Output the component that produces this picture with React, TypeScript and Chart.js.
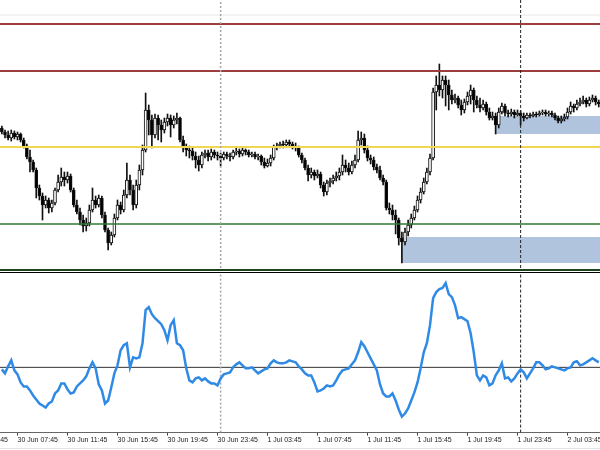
import React, { useEffect, useRef } from "react";
import { Chart, registerables } from "chart.js";

Chart.register(...registerables);

// M15 bars, time in hours from 30 Jun 00:00
const START_HOUR = 6.5;
const BAR_HOURS = 0.25;
const X_MIN = 6.35;
const X_MAX = 54.35;
const PRICE_MIN = 1803.2;
const PRICE_MAX = 1830.0;
const OSC_MIN = -65;
const OSC_MAX = 94;

const opens = [
  1817.2, 1816.8, 1816.5, 1816.2, 1816.7, 1816.3, 1816.6, 1816.0, 1815.4, 1814.3,
  1813.8, 1813.0, 1811.2, 1810.4, 1809.5, 1810.0, 1809.2, 1809.7, 1811.0, 1811.8,
  1812.3, 1812.0, 1812.4, 1811.0, 1809.5, 1808.8, 1808.0, 1807.4, 1807.7, 1809.0,
  1810.0, 1809.5, 1810.2, 1808.5, 1807.0, 1805.7, 1806.5, 1808.2, 1809.5, 1809.0,
  1810.5, 1812.0, 1811.0, 1809.5, 1811.5, 1813.0, 1815.0, 1819.0, 1818.0, 1816.5,
  1818.2, 1817.5, 1817.0, 1817.8, 1818.2, 1817.5, 1818.0, 1818.2, 1816.0, 1815.2,
  1815.0, 1814.9, 1814.4, 1814.0, 1813.5, 1814.5, 1814.7, 1814.3, 1814.8, 1814.5,
  1814.4, 1814.2, 1814.6, 1814.4, 1814.3, 1814.8, 1814.9, 1814.6, 1815.0, 1814.8,
  1814.5, 1814.6, 1814.3, 1814.4, 1813.8, 1813.4, 1813.7, 1814.2, 1815.3, 1815.4,
  1815.6, 1815.5, 1815.8, 1815.6, 1815.4, 1815.2, 1814.5, 1814.0, 1813.2, 1812.5,
  1812.8, 1812.4, 1812.6, 1811.5, 1810.8, 1811.7, 1811.9, 1812.2, 1812.4, 1812.8,
  1813.5, 1813.2, 1812.8, 1813.5, 1814.0, 1816.0, 1816.2, 1815.0, 1814.2, 1814.0,
  1813.3, 1813.0, 1812.2, 1811.8, 1809.2, 1809.0, 1808.5, 1808.0, 1806.2, 1805.8,
  1806.8, 1807.5, 1808.2, 1809.0, 1810.0, 1810.8, 1811.8, 1812.8, 1814.2, 1820.8,
  1821.5, 1821.0, 1822.0, 1821.5, 1820.5, 1820.0, 1820.2, 1819.5, 1819.0, 1819.8,
  1820.4, 1821.0, 1820.0, 1819.5, 1819.2, 1819.6, 1818.8, 1818.2, 1818.4, 1817.5,
  1818.8, 1819.4, 1818.7, 1818.6, 1818.8, 1818.5, 1818.7, 1818.4, 1818.2, 1818.5,
  1818.4, 1818.6, 1818.5, 1818.7, 1818.8, 1818.6, 1818.7, 1818.5, 1818.2, 1817.9,
  1818.1, 1818.3, 1818.8, 1819.4, 1819.2, 1819.6, 1819.8, 1820.0, 1819.6, 1820.0,
  1820.2, 1819.8,
];

const highs = [
  1817.4, 1817.0, 1816.9, 1817.0, 1816.9, 1816.8, 1816.7, 1816.2, 1815.6, 1815.0,
  1814.0, 1813.2, 1811.5, 1810.7, 1810.4, 1810.2, 1810.0, 1811.2, 1812.5, 1813.2,
  1812.8, 1812.8, 1812.6, 1811.2, 1810.0, 1809.2, 1808.5, 1808.2, 1809.5, 1811.2,
  1810.4, 1810.5, 1810.4, 1808.8, 1807.2, 1806.8, 1808.6, 1810.0, 1809.8, 1811.0,
  1813.7, 1812.5, 1811.5, 1812.0, 1813.5, 1815.5, 1820.7, 1819.5, 1818.5, 1818.6,
  1818.5, 1818.0, 1818.2, 1818.6, 1818.5, 1818.4, 1818.7, 1818.3, 1816.4, 1815.6,
  1815.4, 1815.2, 1814.8, 1814.4, 1814.8, 1815.0, 1815.0, 1815.1, 1815.0, 1814.8,
  1814.7, 1814.8, 1814.8, 1814.7, 1815.0, 1815.2, 1815.1, 1815.2, 1815.1, 1815.0,
  1814.8, 1814.8, 1814.6, 1814.5, 1814.2, 1814.1, 1814.5, 1815.5, 1815.7, 1815.8,
  1815.9, 1816.0, 1816.0, 1815.8, 1815.7, 1815.4, 1814.7, 1814.2, 1813.5, 1813.2,
  1813.0, 1813.0, 1812.8, 1811.8, 1812.0, 1812.2, 1812.5, 1812.8, 1813.2, 1814.5,
  1814.0, 1813.7, 1813.9, 1814.5, 1816.9, 1816.8, 1816.6, 1815.4, 1814.5, 1814.3,
  1813.6, 1813.4, 1812.5, 1812.0, 1809.7, 1809.5, 1809.0, 1808.2, 1806.8, 1807.2,
  1808.0, 1808.6, 1809.4, 1810.4, 1811.2, 1812.2, 1813.2, 1814.6, 1821.2, 1822.4,
  1823.6, 1822.4, 1822.4, 1822.0, 1821.0, 1820.6, 1820.4, 1820.0, 1820.1, 1820.8,
  1821.5, 1821.2, 1820.4, 1820.2, 1820.0, 1819.8, 1819.2, 1818.8, 1818.7, 1819.2,
  1819.7, 1819.6, 1819.0, 1819.1, 1819.0, 1819.0, 1818.9, 1818.7, 1818.7, 1818.7,
  1818.8, 1818.8, 1818.9, 1819.0, 1819.0, 1818.9, 1818.9, 1818.7, 1818.4, 1818.4,
  1818.6, 1819.2, 1819.8, 1819.6, 1820.0, 1820.2, 1820.4, 1820.2, 1820.3, 1820.5,
  1820.4, 1820.0,
];

const lows = [
  1816.6, 1816.2, 1816.0, 1815.9, 1816.1, 1816.0, 1815.8, 1815.2, 1814.1, 1812.8,
  1812.8, 1810.2, 1810.0, 1808.0, 1809.2, 1808.7, 1808.8, 1809.5, 1810.8, 1811.4,
  1811.4, 1811.7, 1810.8, 1809.3, 1808.6, 1807.5, 1806.8, 1806.9, 1807.4, 1808.8,
  1809.2, 1809.3, 1808.2, 1806.8, 1805.0, 1805.5, 1806.3, 1808.0, 1808.6, 1808.8,
  1810.2, 1810.5, 1809.0, 1809.2, 1811.0, 1812.5, 1814.8, 1816.5, 1815.2, 1816.2,
  1816.0, 1815.8, 1816.7, 1817.4, 1816.3, 1817.2, 1817.6, 1815.8, 1814.8, 1814.4,
  1814.2, 1814.0, 1813.2, 1812.9, 1813.2, 1814.2, 1813.9, 1814.0, 1814.2, 1814.0,
  1813.4, 1814.0, 1814.1, 1813.9, 1814.1, 1814.5, 1814.3, 1814.4, 1814.5, 1814.3,
  1814.3, 1814.1, 1814.0, 1813.5, 1813.2, 1813.3, 1813.4, 1814.0, 1815.0, 1815.2,
  1815.2, 1815.3, 1815.3, 1815.1, 1814.9, 1814.3, 1813.7, 1813.0, 1811.9, 1812.2,
  1812.0, 1812.2, 1811.2, 1810.4, 1810.5, 1811.3, 1811.6, 1811.9, 1812.0, 1812.5,
  1812.8, 1812.5, 1812.6, 1813.2, 1813.8, 1815.5, 1814.7, 1813.9, 1813.6, 1813.0,
  1812.7, 1812.0, 1811.5, 1809.0, 1808.6, 1808.0, 1806.6, 1805.5, 1803.7, 1805.5,
  1806.4, 1807.2, 1808.0, 1808.8, 1809.7, 1810.6, 1811.6, 1812.5, 1814.0, 1819.0,
  1820.4, 1820.2, 1819.4, 1819.0, 1819.6, 1819.7, 1819.2, 1818.5, 1818.7, 1819.5,
  1819.6, 1818.8, 1819.2, 1818.8, 1819.0, 1818.5, 1818.0, 1818.0, 1816.6, 1817.2,
  1818.6, 1818.4, 1818.3, 1818.4, 1818.2, 1818.4, 1817.5, 1817.9, 1818.1, 1818.2,
  1818.3, 1818.3, 1818.4, 1818.5, 1818.4, 1818.4, 1818.3, 1818.0, 1817.7, 1817.7,
  1817.9, 1818.1, 1818.6, 1818.8, 1819.0, 1819.4, 1819.6, 1819.3, 1819.4, 1819.8,
  1819.5, 1819.3,
];

const closes = [
  1816.8, 1816.5, 1816.2, 1816.7, 1816.3, 1816.6, 1816.0, 1815.4, 1814.3, 1813.8,
  1813.0, 1811.2, 1810.4, 1809.5, 1810.0, 1809.2, 1809.7, 1811.0, 1811.8, 1812.3,
  1812.0, 1812.4, 1811.0, 1809.5, 1808.8, 1808.0, 1807.4, 1807.7, 1809.0, 1810.0,
  1809.5, 1810.2, 1808.5, 1807.0, 1805.7, 1806.5, 1808.2, 1809.5, 1809.0, 1810.5,
  1812.0, 1811.0, 1809.5, 1811.5, 1813.0, 1815.0, 1819.0, 1818.0, 1816.5, 1818.2,
  1817.5, 1817.0, 1817.8, 1818.2, 1817.5, 1818.0, 1818.2, 1816.0, 1815.2, 1815.0,
  1814.9, 1814.4, 1814.0, 1813.5, 1814.5, 1814.7, 1814.3, 1814.8, 1814.5, 1814.4,
  1814.2, 1814.6, 1814.4, 1814.3, 1814.8, 1814.9, 1814.6, 1815.0, 1814.8, 1814.5,
  1814.6, 1814.3, 1814.4, 1813.8, 1813.4, 1813.7, 1814.2, 1815.3, 1815.4, 1815.6,
  1815.5, 1815.8, 1815.6, 1815.4, 1815.2, 1814.5, 1814.0, 1813.2, 1812.5, 1812.8,
  1812.4, 1812.6, 1811.5, 1810.8, 1811.7, 1811.9, 1812.2, 1812.4, 1812.8, 1813.5,
  1813.2, 1812.8, 1813.5, 1814.0, 1816.0, 1816.2, 1815.0, 1814.2, 1814.0, 1813.3,
  1813.0, 1812.2, 1811.8, 1809.2, 1809.0, 1808.5, 1808.0, 1806.2, 1805.8, 1806.8,
  1807.5, 1808.2, 1809.0, 1810.0, 1810.8, 1811.8, 1812.8, 1814.2, 1820.8, 1821.5,
  1821.0, 1822.0, 1821.5, 1820.5, 1820.0, 1820.2, 1819.5, 1819.0, 1819.8, 1820.4,
  1821.0, 1820.0, 1819.5, 1819.2, 1819.6, 1818.8, 1818.2, 1818.4, 1817.5, 1818.8,
  1819.4, 1818.7, 1818.6, 1818.8, 1818.5, 1818.7, 1818.4, 1818.2, 1818.5, 1818.4,
  1818.6, 1818.5, 1818.7, 1818.8, 1818.6, 1818.7, 1818.5, 1818.2, 1817.9, 1818.1,
  1818.3, 1818.8, 1819.4, 1819.2, 1819.6, 1819.8, 1820.0, 1819.6, 1820.0, 1820.2,
  1819.8, 1819.6,
];

const oscillator = [
  -2, -6, 1, 7, -3, -7, -15, -19, -19, -23,
  -28, -32, -36, -38, -40, -36, -34, -26, -23, -16,
  -16, -22, -26, -25, -19, -16, -13, -9, -1, 5,
  -1, -17, -23, -36, -33, -20, -6, 2, 17, 22,
  24, 0, 10, 9, 10, 24, 57, 60, 53, 49,
  46, 43, 37, 27, 42, 47, 24, 22, 17, -1,
  -13, -15, -11, -10, -13, -11, -14, -16, -16, -18,
  -11, -7, -6, -5, 0, 3, 5, 2, -1, -1,
  0, -3, -6, -4, -2, -1, 4, 7, 5, 4,
  4, 5, 7, 6, 5, 1, -2, -6, -8, -8,
  -15, -24, -23, -21, -18, -19, -18, -13, -7, -3,
  -2, -1, 3, 7, 15, 25, 21, 15, 9, 3,
  -3, -17, -26, -29, -29, -26, -33, -42, -49, -46,
  -41, -33, -25, -15, -1, 15, 24, 42, 69, 75,
  78, 79, 84, 73, 70, 62, 49, 50, 48, 46,
  34, 15, -8, -13, -8, -10, -18, -16, -8, -3,
  4, -11, -10, -14, -11, -6, -2, -5, -11, -6,
  -1, 5, 5, 2, -2, -1, 1, 0, -1, -2,
  -3, -1, 0, 5, 6, 2, 3, 5, 7, 9,
  7, 5,
];

// horizontal price levels
const levelPrices = [1828.5, 1827.6, 1822.9, 1815.3, 1807.6];
// supply / demand zones (start hour, top price, bottom price)
const zoneStarts = [46.0, 38.5];
const zoneTops = [1818.4, 1806.3];
const zoneBottoms = [1816.6, 1803.7];
// period separators (hours)
const separatorHours = [24, 48];

const tickHours = [3.75, 7.75, 11.75, 15.75, 19.75, 23.75, 27.75, 31.75, 35.75, 39.75, 43.75, 47.75, 51.75];
const tickLabels = [
  "30 Jun 03:45", "30 Jun 07:45", "30 Jun 11:45", "30 Jun 15:45", "30 Jun 19:45", "30 Jun 23:45",
  "1 Jul 03:45", "1 Jul 07:45", "1 Jul 11:45", "1 Jul 15:45", "1 Jul 19:45", "1 Jul 23:45", "2 Jul 03:45",
];

const levelStyles = [
  { color: "#e6e6e6", width: 1 },
  { color: "#9e3d3d", width: 2 },
  { color: "#9e3d3d", width: 2 },
  { color: "#f2d64e", width: 2 },
  { color: "#2c7a2c", width: 1.5 },
];
const separatorStyles = [
  { color: "#a8a8a8", width: 1.5, dash: [2, 2] },
  { color: "#222222", width: 1, dash: [3, 2] },
];

export default function App() {
  const topRef = useRef<HTMLCanvasElement>(null);
  const botRef = useRef<HTMLCanvasElement>(null);

  useEffect(() => {
    const times = closes.map((_, i) => START_HOUR + i * BAR_HOURS);

    const wickData = times.map((t, i) => ({ x: t, y: [lows[i], highs[i]] }));
    const bodyData = times.map((t, i) => ({ x: t, y: [opens[i], closes[i]] }));
    const bodyColors = closes.map((c, i) => (c > opens[i] ? "#ffffff" : "#000000"));

    const zoneSets = zoneStarts.map((s, k) => ({
      type: "line",
      data: [
        { x: s, y: zoneTops[k] },
        { x: X_MAX, y: zoneTops[k] },
      ],
      borderWidth: 0,
      borderColor: "rgba(0,0,0,0)",
      backgroundColor: "#b0c4de",
      fill: { value: zoneBottoms[k] },
      pointRadius: 0,
      order: 10,
    }));

    const levelSets = levelPrices.map((p, k) => ({
      type: "line",
      data: [
        { x: X_MIN, y: p },
        { x: X_MAX, y: p },
      ],
      borderColor: levelStyles[k].color,
      borderWidth: levelStyles[k].width,
      pointRadius: 0,
      fill: false,
      order: 1,
    }));

    const sepSets = (lo: number, hi: number) =>
      separatorHours.map((h, k) => ({
        type: "line",
        data: [
          { x: h, y: lo },
          { x: h, y: hi },
        ],
        borderColor: separatorStyles[k].color,
        borderWidth: separatorStyles[k].width,
        borderDash: separatorStyles[k].dash,
        pointRadius: 0,
        fill: false,
        order: 0,
      }));

    const top = new Chart(topRef.current as HTMLCanvasElement, {
      type: "bar",
      data: {
        datasets: [
          ...zoneSets,
          {
            type: "bar",
            data: wickData,
            backgroundColor: "#111111",
            barThickness: 1,
            grouped: false,
            order: 3,
          },
          {
            type: "bar",
            data: bodyData,
            backgroundColor: bodyColors,
            borderColor: "#111111",
            borderWidth: 1,
            borderSkipped: false,
            barThickness: 3,
            minBarLength: 1,
            grouped: false,
            order: 2,
          },
          ...levelSets,
          ...sepSets(PRICE_MIN, PRICE_MAX),
        ] as any,
      },
      options: {
        responsive: false,
        animation: false,
        devicePixelRatio: 1,
        events: [],
        layout: { padding: 0 },
        plugins: { legend: { display: false }, tooltip: { enabled: false } },
        scales: {
          x: { type: "linear", display: false, min: X_MIN, max: X_MAX, offset: false, bounds: "data" },
          y: { type: "linear", display: false, min: PRICE_MIN, max: PRICE_MAX },
        },
      } as any,
    });

    const bot = new Chart(botRef.current as HTMLCanvasElement, {
      type: "line",
      data: {
        datasets: [
          {
            data: times.map((t, i) => ({ x: t, y: oscillator[i] })),
            borderColor: "#2f8ae6",
            borderWidth: 2.5,
            pointRadius: 0,
            tension: 0,
            fill: false,
            order: 0,
          },
          ...sepSets(OSC_MIN, OSC_MAX),
          {
            data: [
              { x: X_MIN, y: 0 },
              { x: X_MAX, y: 0 },
            ],
            borderColor: "#333333",
            borderWidth: 1,
            pointRadius: 0,
            fill: false,
            order: 5,
          },
        ] as any,
      },
      options: {
        responsive: false,
        animation: false,
        devicePixelRatio: 1,
        events: [],
        layout: { padding: 0 },
        plugins: { legend: { display: false }, tooltip: { enabled: false } },
        scales: {
          x: {
            type: "linear",
            min: X_MIN,
            max: X_MAX,
            offset: false,
            bounds: "data",
            afterBuildTicks: (s: any) => {
              s.ticks = tickHours.map((v) => ({ value: v }));
            },
            afterFit: (s: any) => {
              s.paddingLeft = 0;
              s.paddingRight = 0;
            },
            ticks: {
              autoSkip: false,
              maxRotation: 0,
              minRotation: 0,
              align: "start",
              padding: 0,
              color: "#222222",
              font: { family: "Liberation Sans", size: 7 },
              callback: (_v: any, i: number) => tickLabels[i],
            },
            grid: { drawOnChartArea: false, drawTicks: true, tickLength: 3, color: "#444444", lineWidth: 1 },
            border: { display: true, color: "#666666", width: 1 },
          },
          y: { type: "linear", display: false, min: OSC_MIN, max: OSC_MAX },
        },
      } as any,
    });

    return () => {
      top.destroy();
      bot.destroy();
    };
  }, []);

  return (
    <div style={{ position: "fixed", left: 0, top: 0, width: 600, height: 450, background: "#ffffff", overflow: "hidden" }}>
      <canvas ref={topRef} width={600} height={268} style={{ position: "absolute", left: 0, top: 0 }} />
      <div style={{ position: "absolute", left: 0, top: 269, width: 600, height: 2, background: "#1d451d" }} />
      <div style={{ position: "absolute", left: 0, top: 272, width: 600, height: 1, background: "#000000" }} />
      <canvas ref={botRef} width={600} height={171} style={{ position: "absolute", left: 0, top: 273 }} />
      <div style={{ position: "absolute", left: 0, top: 448, width: 600, height: 1, background: "#e2e2e2" }} />
    </div>
  );
}
